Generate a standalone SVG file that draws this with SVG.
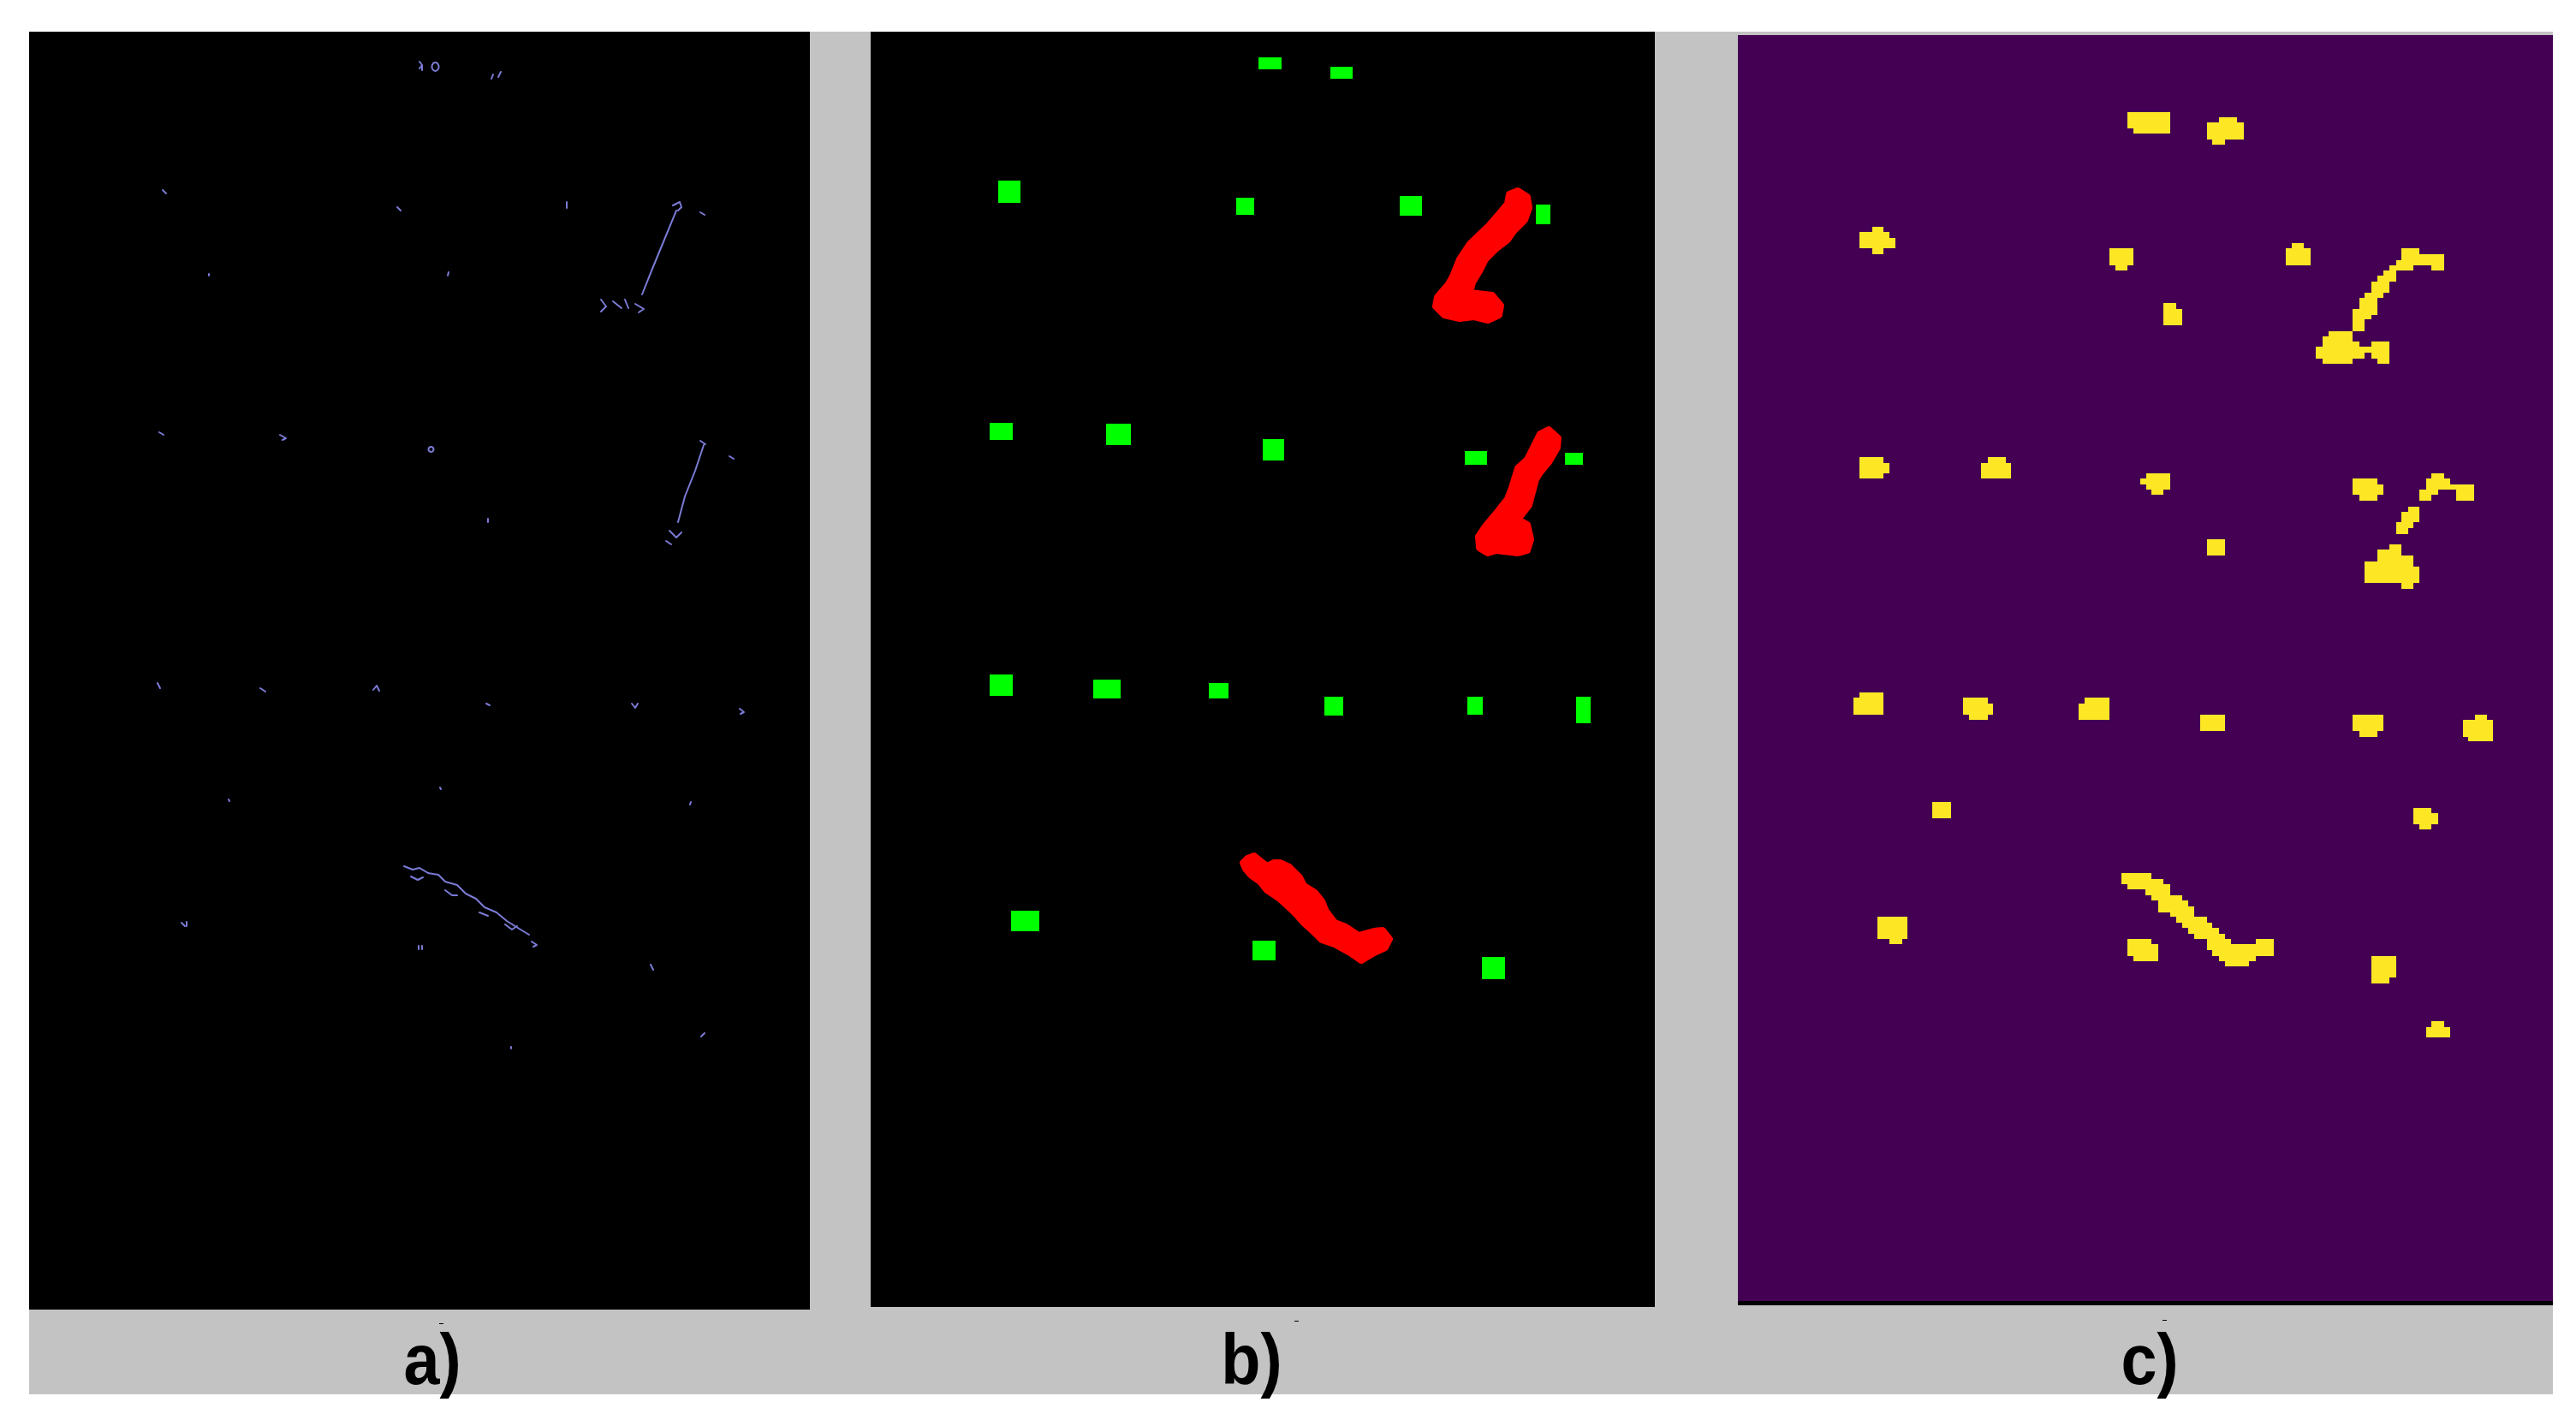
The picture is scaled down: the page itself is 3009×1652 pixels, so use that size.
<svg xmlns="http://www.w3.org/2000/svg" width="3009" height="1652" viewBox="0 0 3009 1652">
<style>
.bg{fill:#c3c3c3}
.g{fill:#00ff00}
.r{fill:#ff0000;stroke:#ff0000;stroke-width:8;stroke-linejoin:round}
.y{fill:#fde725}
.m{fill:none;stroke:#7b7bd6;stroke-width:2;stroke-linecap:round;stroke-linejoin:round}
.lbl{font-family:"Liberation Sans",Arial,sans-serif;font-weight:bold;font-size:84px;fill:#000;text-anchor:middle}
</style>
<rect width="3009" height="1652" fill="#ffffff"/>
<rect class="bg" x="34" y="37" width="2948" height="1592"/>

<g id="panel-a">
<rect x="34" y="37" width="912" height="1493" fill="#000"/>
<g id="a-marks">
<path class="m" d="M490 72 l3 4 l-3 4 M493 76 v6 M508 73 a4 5 0 1 0 1 0 z"/>
<path class="m" d="M574 92 l2 -5 M582 90 l3 -6"/>
<path class="m" d="M190 222 l4 4"/>
<path class="m" d="M464 242 l4 4"/>
<path class="m" d="M662 236 v7"/>
<path class="m" d="M818 248 l5 3"/>
<path class="m" d="M790 246 l-14 34 l-14 34 l-12 30 M786 240 l8 -4 l2 6 l-4 4"/>
<path class="m" d="M702 350 l6 8 l-6 6 M716 352 l10 8 M730 350 l4 10 M742 355 l10 6 l-6 4"/>
<path class="m" d="M244 320 v2"/>
<path class="m" d="M524 318 l-1 4"/>
<path class="m" d="M186 505 l5 3"/>
<path class="m" d="M327 508 l7 4 l-4 2"/>
<path class="m" d="M503 522 a3 3 0 1 0 1 0"/>
<path class="m" d="M852 533 l5 3"/>
<path class="m" d="M822 520 l-10 30 l-12 30 l-8 30 M818 515 l6 4 M782 620 l8 8 l6 -6 M778 632 l6 4"/>
<path class="m" d="M570 606 v4"/>
<path class="m" d="M184 798 l3 6"/>
<path class="m" d="M304 804 l6 4"/>
<path class="m" d="M436 806 l4 -5 l3 6"/>
<path class="m" d="M568 822 l4 2"/>
<path class="m" d="M738 822 l4 5 l3 -5"/>
<path class="m" d="M864 828 l5 4 l-4 2"/>
<path class="m" d="M267 934 l1 2"/>
<path class="m" d="M514 920 l1 2"/>
<path class="m" d="M806 940 l1 -3"/>
<path class="m" d="M472 1012 l10 4 l8 -2 l10 6 l12 2 l8 8 l14 4 l10 10 l12 6 l10 10 l14 6 l12 10 l16 10 l10 6 M480 1024 l8 4 l6 -3 M520 1040 l8 6 l6 0 M560 1066 l10 4 M590 1080 l8 6 l6 -4"/>
<path class="m" d="M212 1078 l4 4 M218 1077 v5"/>
<path class="m" d="M489 1105 v4 M493 1105 v4"/>
<path class="m" d="M621 1100 l6 4 l-4 2"/>
<path class="m" d="M760 1127 l3 6"/>
<path class="m" d="M597 1223 v2"/>
<path class="m" d="M819 1211 l4 -4"/>
</g>
</g>

<g id="panel-b">
<rect x="1017" y="37" width="916" height="1490" fill="#000"/>
<g id="b-boxes">
<rect class="g" x="1470" y="67" width="27" height="14"/>
<rect class="g" x="1554" y="78" width="26" height="14"/>
<rect class="g" x="1166" y="211" width="26" height="26"/>
<rect class="g" x="1444" y="231" width="21" height="20"/>
<rect class="g" x="1635" y="229" width="26" height="23"/>
<rect class="g" x="1794" y="239" width="17" height="23"/>
<rect class="g" x="1156" y="494" width="27" height="20"/>
<rect class="g" x="1292" y="495" width="29" height="25"/>
<rect class="g" x="1475" y="513" width="25" height="25"/>
<rect class="g" x="1711" y="527" width="26" height="16"/>
<rect class="g" x="1828" y="529" width="21" height="14"/>
<rect class="g" x="1156" y="788" width="27" height="25"/>
<rect class="g" x="1277" y="794" width="32" height="22"/>
<rect class="g" x="1412" y="798" width="23" height="18"/>
<rect class="g" x="1547" y="814" width="22" height="22"/>
<rect class="g" x="1714" y="814" width="18" height="21"/>
<rect class="g" x="1841" y="814" width="17" height="31"/>
<rect class="g" x="1181" y="1064" width="33" height="24"/>
<rect class="g" x="1463" y="1099" width="27" height="23"/>
<rect class="g" x="1731" y="1118" width="27" height="26"/>
</g>
<g id="b-strokes">
<path class="r" d="M1773 223 L1784 230 L1786 243 L1781 257 L1768 270 L1761 280 L1748 290 L1735 303 L1728 317 L1720 330 L1717 342 L1743 345 L1753 357 L1751 368 L1738 374 L1722 370 L1705 372 L1687 368 L1677 358 L1679 347 L1692 332 L1697 323 L1705 303 L1717 285 L1738 265 L1751 250 L1761 238 L1763 227 Z"/>
<path class="r" d="M1809 502 L1820 512 L1819 523 L1809 540 L1799 552 L1794 560 L1786 590 L1773 607 L1784 613 L1788 630 L1784 643 L1773 646 L1748 643 L1738 646 L1728 640 L1727 627 L1735 615 L1750 597 L1761 583 L1766 570 L1773 547 L1784 537 L1794 517 L1799 507 Z"/>
<path class="r" d="M1457 1003 L1465 1000 L1480 1012 L1488 1008 L1495 1008 L1506 1013 L1518 1025 L1523 1035 L1536 1043 L1544 1053 L1549 1065 L1559 1078 L1572 1083 L1587 1093 L1605 1088 L1615 1087 L1623 1097 L1618 1107 L1605 1113 L1590 1122 L1577 1113 L1559 1103 L1544 1098 L1536 1090 L1523 1078 L1516 1070 L1508 1062 L1495 1050 L1480 1040 L1472 1030 L1462 1023 L1455 1015 L1452 1008 Z"/>
</g>
</g>

<g id="panel-c">
<rect x="2030" y="41" width="952" height="1479" fill="#440154"/>
<rect x="2030" y="1520" width="952" height="5" fill="#000"/>
<g id="c-blobs" class="y">
<path d="M2485 131H2535V150H2485Z M2492 150H2535V156H2492Z"/>
<path d="M2592 137H2613V143H2592Z M2578 143H2621V163H2578Z M2584 163H2599V169H2584Z"/>
<path d="M2187 265H2200V271H2187Z M2172 271H2207V278H2172Z M2172 278H2214V290H2172Z M2187 290H2200V297H2187Z"/>
<path d="M2464 290H2492V310H2464Z M2471 310H2485V316H2471Z"/>
<path d="M2677 284H2691V290H2677Z M2670 290H2699V310H2670Z"/>
<path d="M2527 354H2542V361H2527Z M2527 361H2549V380H2527Z"/>
<path d="M2805 290H2826V297H2805Z M2805 297H2855V310H2805Z M2840 310H2855V316H2840Z M2799 304H2805V310H2799Z M2791 310H2819V316H2791Z M2784 316H2799V329H2784Z M2777 322H2799V329H2777Z M2770 329H2791V342H2770Z M2762 342H2784V348H2762Z M2756 348H2777V368H2756Z M2748 361H2770V373H2748Z M2748 373H2762V387H2748Z M2720 387H2748V393H2720Z M2713 393H2748V399H2713Z M2713 399H2756V405H2713Z M2705 405H2791V412H2705Z M2705 412H2762V419H2705Z M2770 399H2791V419H2770Z M2777 419H2791V425H2777Z M2713 419H2748V425H2713Z"/>
<path d="M2172 534H2200V559H2172Z M2200 541H2207V553H2200Z"/>
<path d="M2322 534H2343V541H2322Z M2314 541H2349V559H2314Z"/>
<path d="M2507 553H2535V572H2507Z M2500 559H2507V566H2500Z M2513 572H2527V578H2513Z"/>
<path d="M2748 559H2777V578H2748Z M2777 566H2784V578H2777Z M2756 578H2777V585H2756Z"/>
<path d="M2840 553H2855V559H2840Z M2834 559H2862V572H2834Z M2826 572H2848V578H2826Z M2826 578H2840V585H2826Z M2869 566H2890V585H2869Z M2848 566H2869V572H2848Z"/>
<path d="M2813 592H2826V598H2813Z M2805 598H2826V610H2805Z M2799 610H2819V617H2799Z M2799 617H2813V624H2799Z"/>
<path d="M2578 630H2599V649H2578Z"/>
<path d="M2791 636H2805V642H2791Z M2777 642H2805V649H2777Z M2777 649H2819V656H2777Z M2762 656H2819V662H2762Z M2762 662H2826V681H2762Z M2805 681H2819V688H2805Z"/>
<path d="M2172 809H2200V835H2172Z M2165 815H2172V835H2165Z"/>
<path d="M2293 815H2322V835H2293Z M2322 822H2328V835H2322Z M2300 835H2322V841H2300Z"/>
<path d="M2435 815H2464V841H2435Z M2428 822H2435V841H2428Z"/>
<path d="M2570 835H2599V854H2570Z"/>
<path d="M2748 835H2784V854H2748Z M2756 854H2777V861H2756Z"/>
<path d="M2891 835H2905V841H2891Z M2877 841H2912V861H2877Z M2883 861H2912V866H2883Z"/>
<path d="M2257 937H2279V956H2257Z"/>
<path d="M2819 944H2840V950H2819Z M2819 950H2848V963H2819Z M2826 963H2840V969H2826Z"/>
<path d="M2193 1071H2228V1097H2193Z M2207 1097H2222V1103H2207Z"/>
<path d="M2485 1097H2513V1117H2485Z M2513 1103H2521V1123H2513Z M2492 1117H2521V1123H2492Z"/>
<path d="M2478 1020H2513V1033H2478Z M2485 1027H2527V1039H2485Z M2506 1033H2535V1046H2506Z M2513 1046H2549V1052H2513Z M2521 1052H2556V1066H2521Z M2535 1059H2563V1071H2535Z M2542 1071H2578V1078H2542Z M2549 1078H2584V1084H2549Z M2556 1084H2592V1091H2556Z M2563 1091H2599V1097H2563Z M2578 1097H2606V1110H2578Z M2584 1103H2656V1117H2584Z M2635 1097H2656V1103H2635Z M2592 1117H2635V1123H2592Z M2599 1123H2627V1129H2599Z"/>
<path d="M2770 1117H2799V1142H2770Z M2770 1142H2791V1149H2770Z"/>
<path d="M2840 1193H2855V1200H2840Z M2834 1200H2862V1212H2834Z"/>
</g>
</g>

<g id="labels">
<rect x="513" y="1546" width="5" height="1" fill="#000"/>
<rect x="1512" y="1543" width="5" height="1" fill="#000"/>
<rect x="2526" y="1542" width="5" height="1" fill="#000"/>
<text class="lbl" transform="translate(505 1617) scale(0.9 1)">a)</text>
<text class="lbl" transform="translate(1462 1617) scale(0.9 1)">b)</text>
<text class="lbl" transform="translate(2511 1617) scale(0.9 1)">c)</text>
</g>
</svg>
